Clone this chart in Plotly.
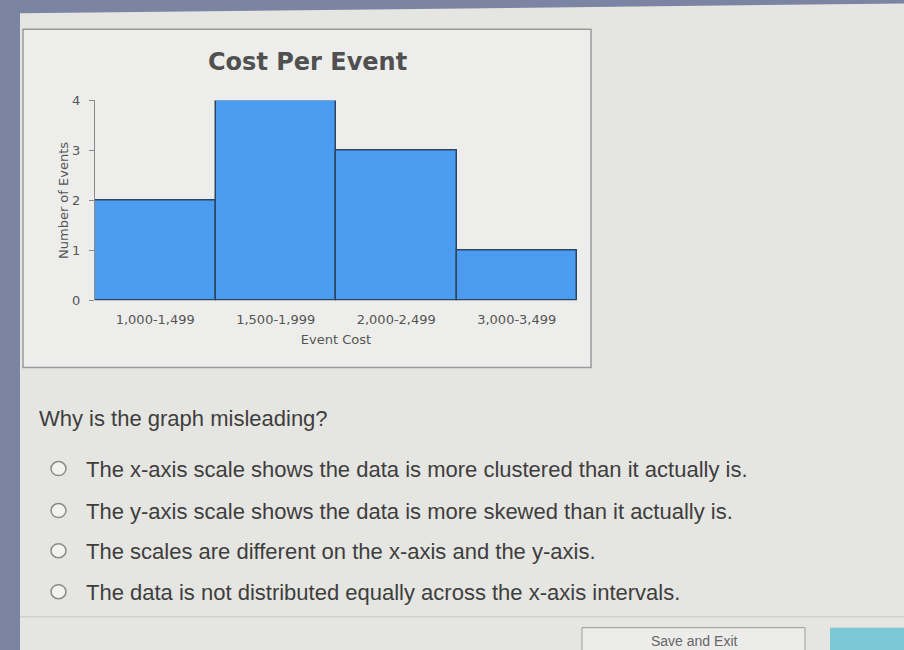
import plotly.graph_objects as go

categories = ["1,000-1,499", "1,500-1,999", "2,000-2,499", "3,000-3,499"]
counts = [2, 4, 3, 1]
y_ticks = [0, 1, 2, 3, 4]

title_text = "Cost Per Event"
x_title = "Event Cost"
y_title = "Number of Events"
question = "Why is the graph misleading?"
options = [
    "The x-axis scale shows the data is more clustered than it actually is.",
    "The y-axis scale shows the data is more skewed than it actually is.",
    "The scales are different on the x-axis and the y-axis.",
    "The data is not distributed equally across the x-axis intervals.",
]

W, H = 904, 650
# measured vertical mapping of the photographed page (offset, scale)
VA, VK = 6.66, 0.9764
def px(x): return x / W
def py(y): return 1 - ((y - VA) / VK) / H

FONT = "Liberation Sans, Arial"
CHART_FONT = "DejaVu Sans, Verdana"
STRIP = "#7b84a2"

fig = go.Figure()
fig.add_trace(go.Bar(
    x=categories, y=counts,
    marker=dict(color="#4b9cf0", line=dict(color="#2d4660", width=1.5)),
    width=1.0, showlegend=False, hoverinfo="x+y",
))

shapes = []
shapes.append(dict(type="rect", xref="paper", yref="paper", x0=-0.02, x1=px(20), y0=-0.05, y1=1.05,
                   fillcolor=STRIP, line=dict(width=0), layer="below"))
shapes.append(dict(type="path", xref="paper", yref="paper",
                   path=f"M -0.02 1.05 L 1.02 1.05 L 1.02 {py(3)} L {px(20)} {py(13)} Z",
                   fillcolor=STRIP, line=dict(width=0), layer="below"))
# chart box
shapes.append(dict(type="rect", xref="paper", yref="paper", x0=px(23), x1=px(591), y0=py(367), y1=py(29),
                   fillcolor="#ededeb", line=dict(color="#9a9a9e", width=1.5), layer="below"))
# bottom separator
shapes.append(dict(type="line", xref="paper", yref="paper", x0=px(20), x1=1.02, y0=py(616), y1=py(616),
                   line=dict(color="#cfcfcb", width=1.5)))
# buttons
shapes.append(dict(type="rect", xref="paper", yref="paper", x0=px(582), x1=px(805), y0=-0.05, y1=py(627),
                   fillcolor="#ececea", line=dict(color="#9a9a9a", width=1)))
shapes.append(dict(type="rect", xref="paper", yref="paper", x0=px(830), x1=1.02, y0=-0.05, y1=py(627),
                   fillcolor="#7cc8d4", line=dict(width=0)))

annotations = []
annotations.append(dict(text=question, x=px(37), y=py(418), xref="paper", yref="paper",
                        xanchor="left", yanchor="middle", showarrow=False,
                        font=dict(family=FONT, size=22, color="#3e3e3e")))
opt_y = [468, 510, 550, 591]
for t, yy in zip(options, opt_y):
    shapes.append(dict(type="circle", xref="paper", yref="paper",
                       x0=px(51), x1=px(66), y0=py(yy + 7), y1=py(yy - 7),
                       line=dict(color="#8a8a8a", width=1.5), fillcolor="#f2f2f0"))
    annotations.append(dict(text=t, x=px(84), y=py(yy + 1), xref="paper", yref="paper",
                            xanchor="left", yanchor="middle", showarrow=False,
                            font=dict(family=FONT, size=22, color="#3e3e3e")))
annotations.append(dict(text="Save and Exit", x=px(694), y=py(640), xref="paper", yref="paper",
                        xanchor="center", yanchor="middle", showarrow=False,
                        font=dict(family=FONT, size=14, color="#666")))
annotations.append(dict(text="<b>" + title_text + "</b>", x=px(307), y=py(62), xref="paper", yref="paper",
                        xanchor="center", yanchor="middle", showarrow=False,
                        font=dict(family=CHART_FONT, size=24, color="#505050")))

fig.update_layout(
    width=W, height=H,
    margin=dict(l=0, r=0, t=0, b=0),
    paper_bgcolor="#e5e5e1",
    plot_bgcolor="rgba(0,0,0,0)",
    bargap=0,
    shapes=shapes,
    annotations=annotations,
    xaxis=dict(domain=[px(95), px(577)], showgrid=False, showline=False, ticks="",
               ticklabelstandoff=10,
               tickfont=dict(family=CHART_FONT, size=13, color="#555"),
               title=dict(text=x_title, standoff=8,
                          font=dict(family=CHART_FONT, size=13, color="#555")),
               fixedrange=True),
    yaxis=dict(domain=[py(300), py(100)], range=[0, 4], tickvals=y_ticks, showgrid=False,
               showline=True, linecolor="#8a8a8a", linewidth=1, ticks="outside", ticklen=5,
               tickcolor="#8a8a8a", zeroline=False, ticklabelstandoff=6,
               tickfont=dict(family=CHART_FONT, size=13, color="#555"),
               title=dict(text=y_title, standoff=0,
                          font=dict(family=CHART_FONT, size=13, color="#555")),
               fixedrange=True),
)

page_fix = ("document.body.style.margin='0';document.body.style.overflow='hidden';"
            "var d=document.getElementById('{plot_id}');"
            "d.style.position='fixed';d.style.left='0';d.style.top='0';")
fig.write_html("out.html", post_script=page_fix, config={"displayModeBar": False})
